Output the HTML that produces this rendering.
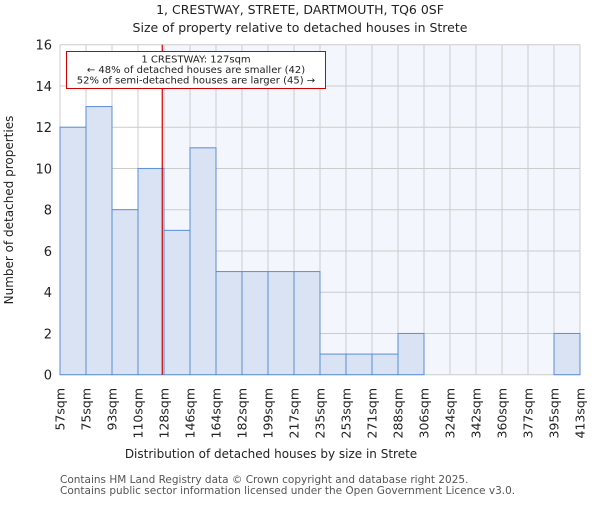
<!DOCTYPE html>
<html><head><meta charset="utf-8"><style>
body{margin:0;background:#fff}
svg text{font-family:"DejaVu Sans","Liberation Sans",sans-serif;fill:#222}
</style></head><body>
<svg id="c" width="600" height="500">
<text x="300" y="14" text-anchor="middle" font-size="12.5">1, CRESTWAY, STRETE, DARTMOUTH, TQ6 0SF</text>
<text x="300" y="32" text-anchor="middle" font-size="12.5">Size of property relative to detached houses in Strete</text>
<g id="plot"></g>
<text x="271" y="458" text-anchor="middle" font-size="12">Distribution of detached houses by size in Strete</text>
<text transform="translate(13,210) rotate(-90)" text-anchor="middle" font-size="12">Number of detached properties</text>
<text x="60" y="483" font-size="10.5" style="fill:#555">Contains HM Land Registry data © Crown copyright and database right 2025.</text>
<text x="60" y="494" font-size="10.5" style="fill:#555">Contains public sector information licensed under the Open Government Licence v3.0.</text>
</svg>
<script>
const binLabels=["57sqm","75sqm","93sqm","110sqm","128sqm","146sqm","164sqm","182sqm","199sqm","217sqm","235sqm","253sqm","271sqm","288sqm","306sqm","324sqm","342sqm","360sqm","377sqm","395sqm","413sqm"];
const counts=[12,13,8,10,7,11,5,5,5,5,1,1,1,2,0,0,0,0,0,2];
const yTicks=[0,2,4,6,8,10,12,14,16];
const propertySize=127;
const binStart=57,binEnd=413;
const L=60,R=580,T=44.7,B=374.7,yMax=16;
const NS="http://www.w3.org/2000/svg";
const g=document.getElementById('plot');
const n=counts.length,bw=(R-L)/n;
const xi=i=>L+i*bw;
const xv=v=>L+(v-binStart)/(binEnd-binStart)*(R-L);
const y=v=>B-v/yMax*(B-T);
function mk(t,a){const e=document.createElementNS(NS,t);for(const k in a)e.setAttribute(k,a[k]);g.appendChild(e);return e;}
const px=xv(propertySize);
let e=mk('rect',{x:px,y:T,width:R-px,height:B-T,fill:'#f4f6fd'});


for(let i=0;i<=n;i++){e=mk('line',{x1:xi(i),x2:xi(i),y1:T,y2:B,stroke:'#ccc','stroke-width':1});

}
yTicks.forEach(t=>{e=mk('line',{x1:L,x2:R,y1:y(t),y2:y(t),stroke:'#ccc','stroke-width':1});


e=mk('text',{x:L-8,y:y(t)+5,'text-anchor':'end','font-size':13});e.textContent=t;

});
counts.forEach((c,i)=>{if(c<=0)return;e=mk('rect',{x:xi(i),y:y(c),width:bw,height:B-y(c),fill:'#dae3f3',stroke:'#5b8dd6','stroke-width':1});

});
binLabels.forEach((l,i)=>{e=mk('text',{transform:`translate(${xi(i)+4.5},388) rotate(-90)`,'text-anchor':'end','font-size':12.5});e.textContent=l;

});
e=mk('line',{x1:px,x2:px,y1:T,y2:B,stroke:'#cc0000','stroke-width':1.2});


e=mk('rect',{x:66.5,y:51.5,width:259,height:37,fill:'#fff',stroke:'#cc0000','stroke-width':1});


["1 CRESTWAY: 127sqm","← 48% of detached houses are smaller (42)","52% of semi-detached houses are larger (45) →"].forEach((s,k)=>{
e=mk('text',{x:196,y:62.5+k*10.5,'text-anchor':'middle','font-size':10});e.textContent=s;

});
</script>
</body></html>
